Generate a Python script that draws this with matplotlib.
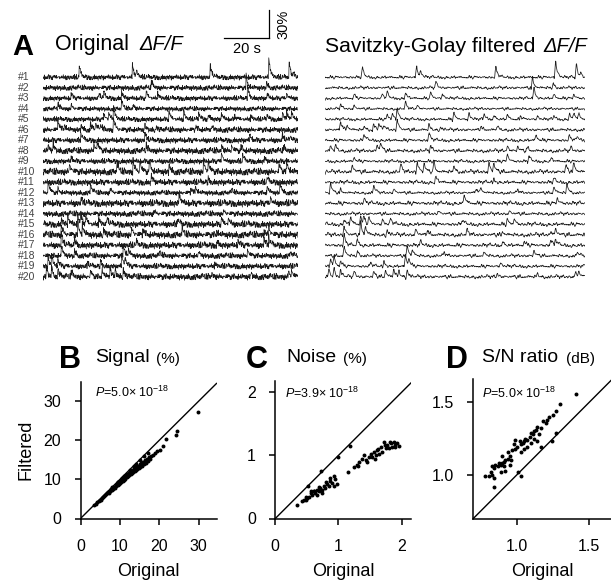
import numpy as np
import matplotlib
matplotlib.use("Agg")
import matplotlib.pyplot as plt

plt.rcParams['font.family'] = ['Liberation Sans', 'DejaVu Sans']
plt.rcParams['mathtext.fontset'] = 'custom'
plt.rcParams['mathtext.rm'] = 'Liberation Sans'
plt.rcParams['mathtext.it'] = 'Liberation Sans:italic'
plt.rcParams['mathtext.bf'] = 'Liberation Sans:bold'

# ---------------- data ----------------
# calcium events per cell: onset time (s) and peak amplitude (% dF/F)
spike_times = [
    [16, 39.6, 41.3, 74, 100, 109, 111],
    [48, 90, 99],
    [12.3, 24.6, 26.8, 34.8, 45.7, 50.8, 90.6, 99.3, 108],
    [6.5, 12.3, 34.8, 39.9],
    [26.8, 29, 31.2, 55.8, 62.4, 68.9, 73.2, 79, 84.8, 92, 99.3, 106, 108, 110],
    [6.5, 9.4, 16.7, 21, 23.2, 25.4, 31.2, 45, 50, 67.4, 74.7],
    [16.7, 45, 91.4, 106, 109.5],
    [2.2, 4.4, 22.5, 24, 45.7, 79, 83.4, 87.7, 106.6],
    [12.3, 79, 88.5, 98],
    [11.6, 32.6, 39.9, 42.8, 47.1, 55.8, 71, 73.2, 104.4, 108],
    [48, 73.2, 99.3],
    [2.2, 6.5, 21, 29.7, 65.3, 67.4, 83.4, 99.3, 105],
    [16.7, 60.2, 100.8],
    [49, 80],
    [8, 10.9, 15.2, 16.7, 18.9, 24.6, 28.3, 59.5, 79, 82],
    [8, 15.2, 17.4, 26.8, 39.2, 44.2, 61.6, 76.9, 97.9, 100],
    [8, 13.8, 41.3, 76.9, 86.3, 97.9, 100],
    [8, 13.8, 35.5, 37.7, 51.5, 68.9, 90.6, 109.5],
    [2.2, 3.6, 6.5, 19.6, 25.4, 34.8, 36.2, 76],
    [1.5, 3.6, 6.5, 12.3, 21, 26, 29.7, 31.9, 35.5, 74.7, 92, 108.7, 110],
]
spike_amps = [
    [13, 15, 8, 15, 23, 18, 6.5],
    [8, 13, 6.5],
    [6.5, 6.5, 8, 8, 8, 6.5, 15, 5, 5],
    [6.5, 5, 8, 5],
    [6.5, 8, 15, 8, 8, 8, 6.5, 6.5, 5, 5, 5, 8, 8, 8],
    [13, 6.5, 6.5, 8, 8, 6.5, 14, 6.5, 5, 5, 5],
    [9, 10, 8, 6.5, 5],
    [6.5, 8, 8, 9, 6.5, 6.5, 6.5, 5, 5],
    [6.5, 10, 6.5, 5],
    [10, 10, 13, 12, 13, 9, 13, 10, 10, 12],
    [8, 5, 5],
    [13, 5, 10, 5, 6.5, 8, 5, 8, 13],
    [6.5, 13, 6.5],
    [4, 4],
    [8, 10, 13, 10, 8, 8, 8, 6.5, 6.5, 8],
    [13, 18, 10, 8, 8, 6.5, 6.5, 5, 5, 8],
    [15, 10, 5, 6.5, 6.5, 8, 8],
    [13, 8, 15, 8, 5, 5, 6.5, 5],
    [10, 13, 8, 5, 8, 15, 10, 5],
    [10, 13, 10, 8, 6.5, 10, 10, 8, 10, 4, 5, 6.5, 6.5],
]
# baseline noise level of each cell (% dF/F)
noise_sd = [1.7, 1.7, 1.6, 1.5, 1.6, 1.8, 1.8, 2.0, 1.7, 2.2,
            2.0, 1.6, 2.2, 1.8, 2.1, 2.2, 2.1, 1.8, 1.8, 2.0]
# hand-typed noise texture (unit sd)
noise_seq = [0.3, -1.1, 0.8, 0.2, -0.5, 1.4, -0.9, 0.1, -0.2, 0.7, -1.6, 0.5, 1.0, -0.3, -0.8, 0.6,
             0.0, -1.2, 1.7, -0.4, 0.9, -0.6, 0.2, 1.1, -1.3, -0.1, 0.4, -0.7, 1.5, -1.0, 0.3, 0.6,
             -0.9, -0.2, 1.2, -1.5, 0.8, 0.1, -0.6, 0.5, -1.8, 0.9, 0.2, -0.3, 1.3, -0.7, -0.4, 0.6,
             1.9, -1.1, 0.0, -0.5, 0.7, -0.2, 1.0, -1.4, 0.4, -0.8, 0.3, 1.6, -0.6, -1.0, 0.5, 0.1,
             -0.3, 0.8, -1.2, 1.1, -0.1, 0.2, -0.9, 1.4, -0.5, 0.6, -1.7, 0.3, 0.9, -0.4, -0.2, 1.2,
             -0.8, 0.0, 0.7, -1.3, 0.5, 1.0, -0.6, -0.1, 0.4, -1.1, 1.8, -0.7, 0.2, -0.3, 0.9, -1.5,
             0.6, 0.1, -0.8, 1.3, -0.2, -1.0, 0.5, 0.8, -0.4, 1.1, -1.6, 0.3, -0.5, 0.7, 0.0, -1.2,
             1.5, -0.3, 0.4, -0.9, 1.0, -0.1, -0.6, 1.7, -1.4, 0.2, 0.6, -0.7, 0.9, -0.2, -1.1, 1.2,
             0.1, -0.8, 0.4, -0.4, 1.4, -1.0, 0.3, 0.5, -1.9, 0.8, -0.3, 0.2, 1.1, -0.6, -0.5, 0.7,
             -1.3, 1.6, 0.0, -0.2, 0.9, -1.0, 0.4, -0.7, 1.3, -0.1, 0.6, -1.5, 0.2, 1.0, -0.4, -0.9,
             0.5, 1.2, -1.2, 0.1, -0.3, 0.8, -0.6, 1.5, -1.1, 0.3, 0.0, -0.8, 0.7, -0.2, 1.9, -1.4,
             0.4, -0.5, 0.6, -1.0, 1.1, -0.3, 0.2, -1.7, 0.9, 0.5, -0.1, -0.7, 1.3, -0.9, 0.1, 0.6,
             -1.2, 0.8, -0.4, 1.0, -1.6, 0.3, -0.2, 0.7, -0.8]

sig_orig = [3.5, 4.0, 4.3, 4.6, 5.0, 5.2, 5.5, 5.8, 6.0, 6.3, 6.5, 6.8, 7.0, 7.2, 7.4, 7.6, 7.8, 8.0,
            8.2, 8.3, 8.5, 8.7, 8.9, 9.0, 9.2, 9.4, 9.5, 9.7, 9.9, 10.0, 10.2, 10.4, 10.5, 10.7, 10.9,
            11.0, 11.2, 11.4, 11.5, 11.7, 11.9, 12.0, 12.2, 12.4, 12.5, 12.7, 12.9, 13.0, 13.2, 13.4,
            13.5, 13.7, 13.9, 14.0, 14.2, 14.4, 14.6, 14.8, 15.0, 15.2, 15.4, 15.6, 15.8, 16.0, 16.3,
            16.5, 16.8, 17.0, 17.3, 17.6, 18.0, 18.5, 19.0, 19.5, 20.2, 21.0, 21.7, 24.2, 24.4, 29.7,
            9.5, 11.0, 12.5, 13.5, 15.0, 16.0, 17.0, 14.0, 8.0, 10.5]
sig_filt = [3.4, 3.8, 4.1, 4.4, 4.8, 4.7, 5.3, 5.4, 5.8, 5.9, 6.3, 6.4, 6.8, 6.5, 7.1, 7.0, 7.5, 7.3,
            7.9, 7.6, 8.1, 7.8, 8.5, 8.3, 8.8, 8.6, 9.2, 8.9, 9.5, 9.1, 9.8, 9.4, 10.1, 9.7, 10.4,
            9.9, 10.7, 10.2, 11.0, 10.5, 11.3, 10.8, 11.6, 11.0, 11.9, 11.3, 12.2, 11.5, 12.5, 11.8,
            12.8, 12.1, 13.0, 12.4, 13.3, 12.6, 13.5, 12.9, 13.8, 13.2, 14.1, 13.5, 14.4, 13.8, 14.9,
            14.2, 15.3, 14.6, 15.6, 15.1, 16.0, 16.3, 16.8, 17.3, 17.6, 18.6, 20.4, 21.4, 22.3, 27.2,
            9.4, 10.9, 12.4, 13.5, 14.9, 15.9, 16.8, 13.9, 8.0, 10.4]

noise_orig = [0.52, 0.73, 0.99, 1.18,
              0.34, 0.45, 0.48, 0.53, 0.56, 0.58, 0.61, 0.63, 0.66, 0.69, 0.71, 0.74, 0.77, 0.79,
              0.82, 0.85, 0.87, 0.90, 0.93, 0.95, 0.98, 0.93, 0.50, 0.42, 0.57, 0.62, 0.70, 0.80,
              0.86, 0.74, 0.66, 0.48,
              1.15,
              1.24, 1.30, 1.33, 1.38, 1.40, 1.43, 1.48, 1.51, 1.53, 1.56, 1.59, 1.61, 1.64, 1.67,
              1.69, 1.72, 1.75, 1.77, 1.80, 1.83, 1.85, 1.88, 1.90, 1.93, 1.96, 1.31, 1.46, 1.58,
              1.63, 1.74, 1.81, 1.89]
noise_filt = [0.52, 0.75, 0.98, 1.15,
              0.22, 0.29, 0.34, 0.34, 0.40, 0.37, 0.43, 0.40, 0.45, 0.43, 0.48, 0.45, 0.51, 0.48,
              0.54, 0.51, 0.64, 0.56, 0.67, 0.62, 0.54, 0.51, 0.32, 0.27, 0.43, 0.44, 0.50, 0.58,
              0.59, 0.40, 0.37, 0.29,
              0.73,
              0.82, 0.85, 0.89, 0.95, 1.00, 0.93, 0.97, 1.02, 0.97, 1.05, 1.00, 1.08, 1.03, 1.14,
              1.05, 1.22, 1.11, 1.16, 1.11, 1.19, 1.14, 1.22, 1.16, 1.19, 1.15, 0.84, 0.89, 0.95,
              1.10, 1.16, 1.22, 1.13]

snr_orig = [1.41, 1.30, 1.27, 1.25, 1.22, 1.21, 1.20, 1.18, 1.17, 1.14, 1.13, 1.12, 1.11, 1.10,
            1.09, 1.07, 1.06, 1.05, 1.04, 1.03, 1.02, 1.00, 0.99, 0.98, 0.97, 1.03, 1.05, 1.07,
            1.10, 1.12, 1.15, 1.14, 0.99, 0.94, 0.92, 0.91, 0.90, 0.89, 0.88, 0.87, 0.85, 0.84,
            0.83, 0.82, 0.83, 0.81, 0.78, 0.84, 0.84, 0.89, 0.91, 0.95, 0.96, 0.92, 0.90, 0.95,
            0.94, 1.01, 1.03, 1.17, 1.24, 1.27]
snr_filt = [1.56, 1.49, 1.44, 1.41, 1.40, 1.38, 1.36, 1.37, 1.32, 1.33, 1.31, 1.30, 1.28, 1.29,
            1.26, 1.24, 1.25, 1.23, 1.22, 1.21, 1.23, 1.19, 1.18, 1.21, 1.17, 1.16, 1.18, 1.19,
            1.22, 1.25, 1.28, 1.23, 1.24, 1.11, 1.10, 1.09, 1.08, 1.07, 1.08, 1.06, 1.07, 1.05,
            1.06, 1.02, 1.00, 0.99, 0.99, 0.98, 0.92, 1.02, 1.06, 1.07, 1.10, 1.03, 1.13, 1.13,
            1.16, 1.02, 0.99, 1.19, 1.23, 1.29]

# ---------------- helpers ----------------
W, H = 611, 588


def fx(x):
    return x / W


def fy(y):
    return 1 - y / H


def rect(x0, y0, x1, y1):
    return [fx(x0), fy(y1), (x1 - x0) / W, (y1 - y0) / H]


def savgol(y, window=7, order=2):
    half = window // 2
    k = np.arange(-half, half + 1)
    A = np.vander(k, order + 1, increasing=True)
    coef = np.linalg.pinv(A)[0]
    ypad = np.pad(y, half, mode='edge')
    return np.convolve(ypad, coef[::-1], mode='valid')


fig = plt.figure(figsize=(W / 100, H / 100), dpi=100)

# ---------------- panel A ----------------
t = np.arange(0, 113, 0.15)
tau = 0.8
noise_arr = np.array(noise_seq)
px_per_pct = 28 / 30.0
row_px = 10.5
spacing = row_px / px_per_pct
ylim = (-19 * spacing - 8.2 / px_per_pct, 20.3 / px_per_pct)

ax_raw = fig.add_axes(rect(43, 57, 298, 285))
ax_sg = fig.add_axes(rect(325, 57, 585, 285))
for ax in (ax_raw, ax_sg):
    ax.set_xlim(0, 113)
    ax.set_ylim(*ylim)
    ax.axis('off')

for i in range(20):
    clean = np.zeros_like(t)
    for ts, a in zip(spike_times[i], spike_amps[i]):
        m = t >= ts
        clean[m] += a * np.exp(-(t[m] - ts) / tau)
    idx = (np.arange(len(t)) * 7 + 53 * i) % len(noise_arr)
    if i % 2:
        idx = idx[::-1]
    raw = clean + noise_arr[idx] * noise_sd[i]
    filt = savgol(raw)
    off = -i * spacing
    ax_raw.plot(t, raw + off, color='#1a1a1a', lw=0.5)
    ax_sg.plot(t, filt + off, color='#1a1a1a', lw=0.55)
    fig.text(fx(18), fy(77.3 + row_px * i), f'#{i + 1}', fontsize=7.5,
             color='#444444', ha='left', va='center')

# scale bar
ax_raw.plot([80.2, 100.2], [42, 42], color='black', lw=0.9, clip_on=False)
ax_raw.plot([100.2, 100.2], [42, 72], color='black', lw=0.9, clip_on=False)
ax_raw.text(90.2, 38, '20 s', fontsize=10.5, ha='center', va='top')
ax_raw.text(103.5, 57, '30%', fontsize=10.5, rotation=90, ha='left', va='center')

fig.text(fx(12), fy(55), 'A', fontsize=21, fontweight='bold')
fig.text(fx(55), fy(50), 'Original', fontsize=15.5)
fig.text(fx(139), fy(50), 'ΔF/F', fontsize=14.5, fontstyle='italic')
fig.text(fx(325), fy(52), 'Savitzky-Golay filtered', fontsize=15.2)
fig.text(fx(543), fy(52), 'ΔF/F', fontsize=14.5, fontstyle='italic')

# ---------------- panels B-D ----------------


def scatter_panel(box, xo, yf, lims, ticks, ticklabels, ptext, letter, title, unit,
                  lx, tx, ux, show_ylabel=False):
    ax = fig.add_axes(rect(*box))
    ax.scatter(xo, yf, s=8, color='black', linewidths=0, zorder=3)
    ax.axline((lims[0][0], lims[0][0]), slope=1, color='black', lw=1.0)
    ax.set_xlim(*lims[0])
    ax.set_ylim(*lims[1])
    ax.set_xticks(ticks)
    ax.set_yticks(ticks)
    ax.set_xticklabels(ticklabels)
    ax.set_yticklabels(ticklabels)
    for s in ('top', 'right'):
        ax.spines[s].set_visible(False)
    for s in ('left', 'bottom'):
        ax.spines[s].set_linewidth(1.1)
    ax.tick_params(direction='out', length=4, width=1.1, labelsize=11.5)
    ax.tick_params(axis='y', pad=10)
    ax.tick_params(axis='x', pad=11)
    ax.set_xlabel('Original', fontsize=13, labelpad=6)
    if show_ylabel:
        ax.set_ylabel('Filtered', fontsize=13, labelpad=6)
    ax.text(ptext[0], ptext[1], r'$\mathit{P}$=' + ptext[2] + r'$\times$ 10$^{-18}$',
            transform=ax.transAxes, fontsize=9, ha='left', va='center')
    fig.text(fx(lx), fy(368), letter, fontsize=22, fontweight='bold')
    fig.text(fx(tx), fy(362.5), title, fontsize=14)
    fig.text(fx(ux), fy(362.5), unit, fontsize=11)
    return ax


scatter_panel((80.5, 381.5, 216.5, 518.5), sig_orig, sig_filt, ((0, 34.5), (0, 35)),
              [0, 10, 20, 30], ['0', '10', '20', '30'], (0.11, 0.92, '5.0'),
              'B', 'Signal', '(%)', 59, 95, 156, show_ylabel=True)
scatter_panel((275.3, 381, 411, 518.5), noise_orig, noise_filt, ((0, 2.15), (0, 2.18)),
              [0, 1, 2], ['0', '1', '2'], (0.07, 0.91, '3.9'),
              'C', 'Noise', '(%)', 246, 286, 343)
scatter_panel((473.3, 379, 611, 518.5), snr_orig, snr_filt, ((0.7, 1.65), (0.7, 1.66)),
              [1.0, 1.5], ['1.0', '1.5'], (0.06, 0.90, '5.0'),
              'D', 'S/N ratio', '(dB)', 446, 482, 566)

fig.savefig('out.png', dpi=100, facecolor='white')
